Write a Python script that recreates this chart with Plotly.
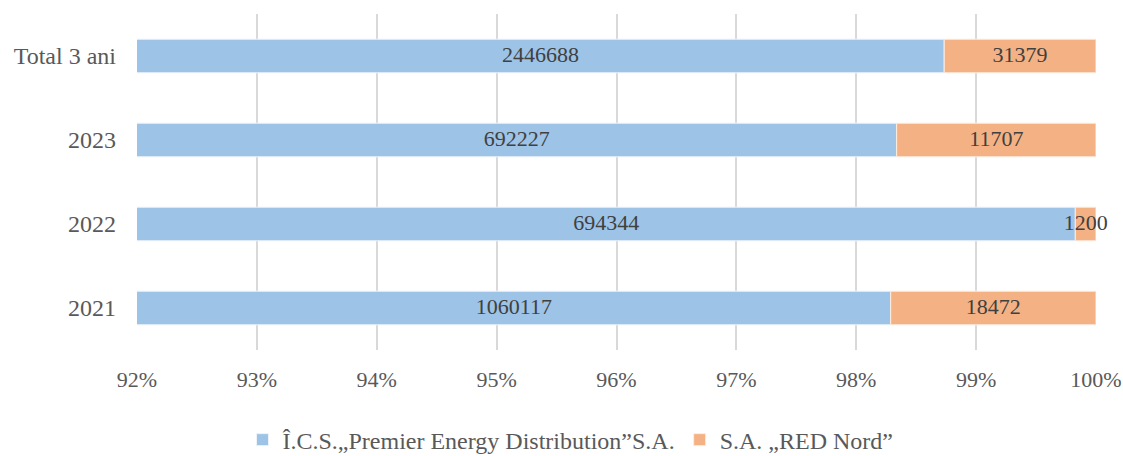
import plotly.graph_objects as go

categories = ["2021", "2022", "2023", "Total 3 ani"]
premier = [1060117, 694344, 692227, 2446688]
rednord = [18472, 1200, 11707, 31379]
tick_vals = [92, 93, 94, 95, 96, 97, 98, 99, 100]
series_names = ["Î.C.S.„Premier Energy Distribution”S.A.", "S.A. „RED Nord”"]

XMIN, XMAX = 92, 100
totals = [a + b for a, b in zip(premier, rednord)]
p_pct = [100.0 * a / t for a, t in zip(premier, totals)]
r_pct = [100.0 * b / t for b, t in zip(rednord, totals)]

BLUE = "#9DC3E6"
ORANGE = "#F4B183"
FONT = "'Liberation Serif', 'Times New Roman', serif"
FS = 22

fig = go.Figure()
fig.add_trace(go.Bar(
    y=categories, x=p_pct, orientation="h", name=series_names[0],
    marker=dict(color=BLUE, line=dict(color="#EEF3FA", width=1)),
))
fig.add_trace(go.Bar(
    y=categories, x=r_pct, base=p_pct, orientation="h", name=series_names[1],
    marker=dict(color=ORANGE, line=dict(color="#FBEDE3", width=1)),
))

# data labels centred in visible part of each segment
blue_mid = [(XMIN + p) / 2 for p in p_pct]
orange_mid = [(p + XMAX) / 2 for p in p_pct]
fig.add_trace(go.Scatter(
    y=categories, x=blue_mid, mode="text", text=[str(v) for v in premier],
    textfont=dict(family=FONT, size=FS, color="#404040"),
    showlegend=False, hoverinfo="skip", cliponaxis=False,
))
fig.add_trace(go.Scatter(
    y=categories, x=orange_mid, mode="text", text=[str(v) for v in rednord],
    textfont=dict(family=FONT, size=FS, color="#404040"),
    showlegend=False, hoverinfo="skip", cliponaxis=False,
))

fig.update_layout(
    width=1123, height=456, autosize=False,
    barmode="overlay", bargap=0.6,
    paper_bgcolor="white", plot_bgcolor="white",
    margin=dict(l=137, r=27, t=14, b=106, autoexpand=False),
    font=dict(family=FONT, size=FS, color="#595959"),
    legend=dict(
        orientation="h", x=0.11, xanchor="left",
        y=-0.268, yanchor="middle",
        font=dict(family=FONT, size=24, color="#595959"),
        traceorder="normal",
    ),
    xaxis=dict(
        range=[XMIN, XMAX], tickvals=tick_vals,
        ticktext=[f"{v}%" for v in tick_vals],
        showgrid=True, gridcolor="#D9D9D9", gridwidth=1.5,
        zeroline=False, showline=False, ticks="", tickangle=0,
        ticklabelstandoff=14,
    ),
    yaxis=dict(
        categoryorder="array", categoryarray=categories,
        showgrid=False, zeroline=False, showline=False, ticks="",
        ticklabelstandoff=20, tickfont=dict(size=24),
    ),
)

fig.write_html(
    "out.html",
    config={"displayModeBar": False},
    post_script="document.body.style.margin='0';document.body.style.overflow='hidden';",
)
